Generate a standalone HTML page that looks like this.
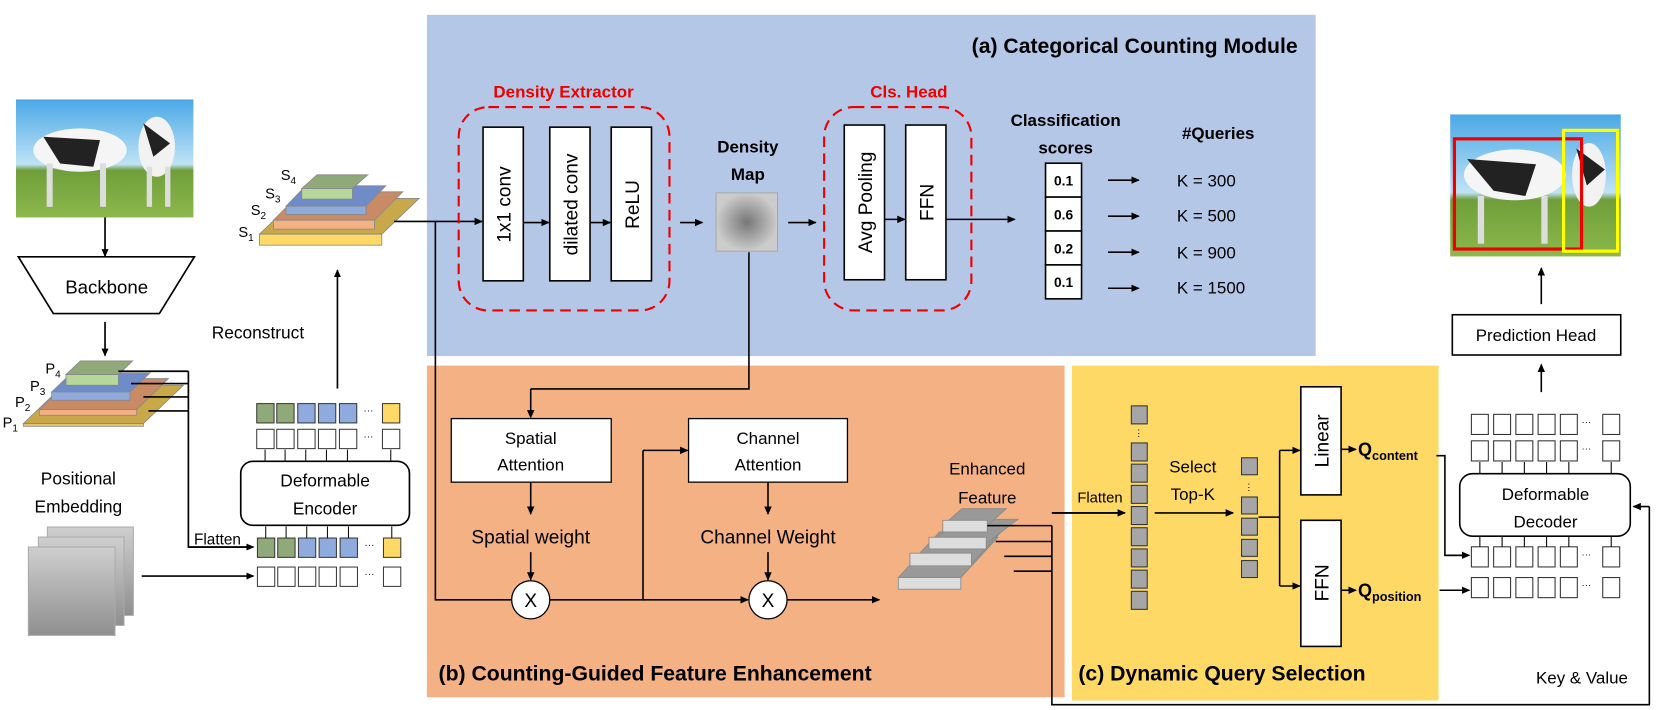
<!DOCTYPE html>
<html><head><meta charset="utf-8"><style>
html,body{margin:0;padding:0;background:#fff;}
svg{display:block;font-family:"Liberation Sans",sans-serif;}
</style></head><body>
<svg width="1661" height="710" viewBox="0 0 1568 670" preserveAspectRatio="none" xmlns="http://www.w3.org/2000/svg">
<defs>
<marker id="a" markerWidth="8" markerHeight="8" refX="7" refY="4" orient="auto" markerUnits="userSpaceOnUse"><path d="M0,0.5 L8,4 L0,7.5 z" fill="#000"/></marker>
<marker id="b" markerWidth="24" markerHeight="24" refX="21" refY="12" orient="auto" markerUnits="userSpaceOnUse"><path d="M0,1.5 L24,12 L0,22.5 z" fill="#000"/></marker>
<radialGradient id="dm"><stop offset="0" stop-color="#777"/><stop offset="1" stop-color="#ccc"/></radialGradient>
<linearGradient id="pe" x1="0" y1="0" x2="0" y2="1"><stop offset="0" stop-color="#cfcfcf"/><stop offset="1" stop-color="#8f8f8f"/></linearGradient>
<linearGradient id="sky" x1="0" y1="0" x2="0" y2="1"><stop offset="0" stop-color="#4aa8e6"/><stop offset="0.55" stop-color="#bfe3f5"/><stop offset="0.6" stop-color="#6f9e3a"/><stop offset="1" stop-color="#8cb84c"/></linearGradient>
</defs>

<rect x="403" y="14" width="839" height="322" fill="#b4c7e7"/>
<rect x="403" y="345" width="602" height="313" fill="#f4b183"/>
<rect x="1012" y="345" width="346" height="316" fill="#ffd966"/>

<text x="1225" y="50" font-size="20" font-weight="bold" text-anchor="end">(a) Categorical Counting Module</text>
<text x="414" y="642" font-size="20" font-weight="bold">(b) Counting-Guided Feature Enhancement</text>
<text x="1018" y="642" font-size="20" font-weight="bold">(c) Dynamic Query Selection</text>

<!-- LEFT PART drawn in zoom coords -->
<g transform="scale(0.9443) translate(0,80) scale(0.33333)">
<rect x="48" y="58" width="532" height="354" fill="url(#sky)"/>
<ellipse cx="240" cy="210" rx="140" ry="65" fill="#f5f5f5"/>
<path d="M130,170 L180,250 L280,260 L300,180 Z" fill="#222"/>
<rect x="140" y="250" width="18" height="130" fill="#ddd"/><rect x="300" y="250" width="18" height="130" fill="#ddd"/>
<ellipse cx="470" cy="200" rx="55" ry="90" fill="#f2f2f2"/>
<path d="M430,130 L460,230 L510,190 Z" fill="#222"/>
<rect x="440" y="260" width="16" height="120" fill="#ddd"/><rect x="495" y="260" width="16" height="120" fill="#ddd"/>
<line x1="315" y1="412" x2="315" y2="528" stroke="#000" stroke-width="5" marker-end="url(#b)"/>
<path d="M55,530 L583,530 L478,700 L160,700 Z" fill="#fff" stroke="#000" stroke-width="5"/>
<text x="320" y="640" font-size="56" text-anchor="middle">Backbone</text>
<line x1="315" y1="725" x2="315" y2="826" stroke="#000" stroke-width="5" marker-end="url(#b)"/>

<g stroke="#888" stroke-width="2.5">
<path d="M70,1030 L430,1030 L550,915 L190,915 Z" fill="#c9a84a"/><rect x="70" y="1030" width="360" height="8" fill="#e6c86a"/>
<path d="M118,988 L410,988 L505,895 L213,895 Z" fill="#c98a66"/><rect x="118" y="988" width="292" height="17" fill="#f4b183"/>
<path d="M155,935 L390,935 L450,878 L215,878 Z" fill="#6f8cc8"/><rect x="155" y="935" width="235" height="25" fill="#8faadc"/>
<path d="M198,883 L355,883 L398,842 L241,842 Z" fill="#8faa78"/><rect x="198" y="883" width="157" height="32" fill="#b5d89a"/>
</g>
<g font-size="44">
<text x="8" y="1042">P<tspan font-size="30" dy="12">1</tspan></text>
<text x="45" y="980">P<tspan font-size="30" dy="12">2</tspan></text>
<text x="90" y="932">P<tspan font-size="30" dy="12">3</tspan></text>
<text x="136" y="880">P<tspan font-size="30" dy="12">4</tspan></text>
</g>
<g stroke="#000" stroke-width="5" fill="none">
<path d="M355,873 L565,873 M393,910 L565,910 M430,950 L565,950 M445,992 L565,992 M565,873 L565,1400 L740,1400"/>
</g>
<line x1="565" y1="1400" x2="760" y2="1400" stroke="#000" stroke-width="5" marker-end="url(#b)"/>
<text x="582" y="1392" font-size="46">Flatten</text>

<text x="235" y="1212" font-size="52" text-anchor="middle">Positional</text>
<text x="235" y="1297" font-size="52" text-anchor="middle">Embedding</text>
<rect x="142" y="1340" width="258" height="265" fill="url(#pe)" stroke="#aaa" stroke-width="3"/>
<rect x="115" y="1370" width="257" height="265" fill="url(#pe)" stroke="#aaa" stroke-width="3"/>
<rect x="85" y="1400" width="260" height="265" fill="url(#pe)" stroke="#aaa" stroke-width="3"/>
<line x1="425" y1="1487" x2="760" y2="1487" stroke="#000" stroke-width="5" marker-end="url(#b)"/>

<g stroke="#333" stroke-width="3">
<rect x="770" y="970" width="52" height="58" fill="#8faa78"/><rect x="830" y="970" width="52" height="58" fill="#8faa78"/><rect x="893" y="970" width="52" height="58" fill="#8faadc"/><rect x="955" y="970" width="52" height="58" fill="#8faadc"/><rect x="1018" y="970" width="52" height="58" fill="#8faadc"/><rect x="1147" y="970" width="52" height="58" fill="#ffd966"/>
<rect x="770" y="1047" width="52" height="58" fill="#fff"/><rect x="830" y="1047" width="52" height="58" fill="#fff"/><rect x="893" y="1047" width="52" height="58" fill="#fff"/><rect x="955" y="1047" width="52" height="58" fill="#fff"/><rect x="1018" y="1047" width="52" height="58" fill="#fff"/><rect x="1147" y="1047" width="52" height="58" fill="#fff"/>
<rect x="772" y="1373" width="52" height="58" fill="#8faa78"/><rect x="833" y="1373" width="52" height="58" fill="#8faa78"/><rect x="895" y="1373" width="52" height="58" fill="#8faadc"/><rect x="957" y="1373" width="52" height="58" fill="#8faadc"/><rect x="1020" y="1373" width="52" height="58" fill="#8faadc"/><rect x="1150" y="1373" width="52" height="58" fill="#ffd966"/>
<rect x="772" y="1460" width="52" height="58" fill="#fff"/><rect x="833" y="1460" width="52" height="58" fill="#fff"/><rect x="895" y="1460" width="52" height="58" fill="#fff"/><rect x="957" y="1460" width="52" height="58" fill="#fff"/><rect x="1020" y="1460" width="52" height="58" fill="#fff"/><rect x="1150" y="1460" width="52" height="58" fill="#fff"/>
</g>
<g font-size="30"><text x="1090" y="1000">···</text><text x="1090" y="1077">···</text><text x="1093" y="1403">···</text><text x="1093" y="1490">···</text></g>
<rect x="722" y="1143" width="506" height="192" rx="36" fill="#fff" stroke="#000" stroke-width="5"/>
<text x="975" y="1218" font-size="52" text-anchor="middle">Deformable</text>
<text x="975" y="1302" font-size="52" text-anchor="middle">Encoder</text>
<g stroke="#000" stroke-width="3">
<line x1="795" y1="1143" x2="795" y2="1108"/><line x1="855" y1="1143" x2="855" y2="1108"/><line x1="917" y1="1143" x2="917" y2="1108"/><line x1="979" y1="1143" x2="979" y2="1108"/><line x1="1042" y1="1143" x2="1042" y2="1108"/><line x1="1172" y1="1143" x2="1172" y2="1108"/>
<line x1="797" y1="1373" x2="797" y2="1338"/><line x1="858" y1="1373" x2="858" y2="1338"/><line x1="920" y1="1373" x2="920" y2="1338"/><line x1="982" y1="1373" x2="982" y2="1338"/><line x1="1045" y1="1373" x2="1045" y2="1338"/><line x1="1175" y1="1373" x2="1175" y2="1338"/>
</g>
<text x="635" y="775" font-size="52">Reconstruct</text>
<line x1="1012" y1="925" x2="1012" y2="570" stroke="#000" stroke-width="5" marker-end="url(#b)"/>

<g stroke="#888" stroke-width="2.5">
<path d="M778,462 L1145,462 L1257,355 L890,355 Z" fill="#c9a84a"/><rect x="778" y="462" width="367" height="33" fill="#ffd966"/>
<path d="M820,420 L1123,420 L1208,335 L905,335 Z" fill="#c98a66"/><rect x="820" y="420" width="303" height="27" fill="#f4b183"/>
<path d="M858,378 L1098,378 L1157,317 L917,317 Z" fill="#6f8cc8"/><rect x="858" y="378" width="240" height="25" fill="#8faadc"/>
<path d="M905,325 L1057,325 L1103,284 L951,284 Z" fill="#8faa78"/><rect x="905" y="325" width="152" height="32" fill="#b5d89a"/>
</g>
<g font-size="44">
<text x="715" y="470">S<tspan font-size="30" dy="12">1</tspan></text>
<text x="752" y="405">S<tspan font-size="30" dy="12">2</tspan></text>
<text x="795" y="355">S<tspan font-size="30" dy="12">3</tspan></text>
<text x="842" y="300">S<tspan font-size="30" dy="12">4</tspan></text>
</g>
</g>

<line x1="372" y1="209" x2="455" y2="209" stroke="#000" stroke-width="1.5" marker-end="url(#a)"/>

<rect x="433" y="101" width="199" height="192" rx="28" fill="none" stroke="#e00" stroke-width="2" stroke-dasharray="10,6"/>
<text x="532" y="92" font-size="16" font-weight="bold" fill="#e00" text-anchor="middle">Density Extractor</text>
<g fill="#fff" stroke="#000" stroke-width="1.5">
<rect x="456" y="120" width="38" height="145"/><rect x="519" y="120" width="38" height="145"/><rect x="577" y="120" width="38" height="145"/>
</g>
<g font-size="18" text-anchor="middle">
<text transform="translate(482,193) rotate(-90)">1x1 conv</text>
<text transform="translate(545,193) rotate(-90)">dilated conv</text>
<text transform="translate(603,193) rotate(-90)">ReLU</text>
</g>
<line x1="494" y1="210" x2="518" y2="210" stroke="#000" stroke-width="1.5" marker-end="url(#a)"/>
<line x1="557" y1="210" x2="576" y2="210" stroke="#000" stroke-width="1.5" marker-end="url(#a)"/>
<line x1="642" y1="210" x2="663" y2="210" stroke="#000" stroke-width="1.5" marker-end="url(#a)"/>
<text x="706" y="144" font-size="16" font-weight="bold" text-anchor="middle">Density</text>
<text x="706" y="170" font-size="16" font-weight="bold" text-anchor="middle">Map</text>
<rect x="676" y="182" width="58" height="55" fill="url(#dm)" stroke="#aaa"/>
<line x1="744" y1="210" x2="770" y2="210" stroke="#000" stroke-width="1.5" marker-end="url(#a)"/>

<rect x="778" y="101" width="139" height="192" rx="28" fill="none" stroke="#e00" stroke-width="2" stroke-dasharray="10,6"/>
<text x="858" y="92" font-size="16" font-weight="bold" fill="#e00" text-anchor="middle">Cls. Head</text>
<g fill="#fff" stroke="#000" stroke-width="1.5"><rect x="797" y="118" width="38" height="146"/><rect x="855" y="118" width="38" height="146"/></g>
<text transform="translate(823,191) rotate(-90)" font-size="18" text-anchor="middle">Avg Pooling</text>
<text transform="translate(881,191) rotate(-90)" font-size="18" text-anchor="middle">FFN</text>
<line x1="835" y1="207" x2="854" y2="207" stroke="#000" stroke-width="1.5" marker-end="url(#a)"/>
<line x1="893" y1="207" x2="958" y2="207" stroke="#000" stroke-width="1.5" marker-end="url(#a)"/>

<text x="1006" y="119" font-size="16" font-weight="bold" text-anchor="middle">Classification</text>
<text x="1006" y="145" font-size="16" font-weight="bold" text-anchor="middle">scores</text>
<g fill="#fff" stroke="#000" stroke-width="1.5">
<rect x="987" y="154" width="34" height="32"/><rect x="987" y="186" width="34" height="32"/><rect x="987" y="218" width="34" height="32"/><rect x="987" y="250" width="34" height="32"/>
</g>
<g font-size="13" font-weight="bold" text-anchor="middle">
<text x="1004" y="175">0.1</text><text x="1004" y="207">0.6</text><text x="1004" y="239">0.2</text><text x="1004" y="271">0.1</text>
</g>
<g stroke="#000" stroke-width="1.5">
<line x1="1046" y1="170" x2="1075" y2="170" marker-end="url(#a)"/><line x1="1046" y1="204" x2="1075" y2="204" marker-end="url(#a)"/>
<line x1="1046" y1="238" x2="1075" y2="238" marker-end="url(#a)"/><line x1="1046" y1="272" x2="1075" y2="272" marker-end="url(#a)"/>
</g>
<text x="1150" y="131" font-size="16" font-weight="bold" text-anchor="middle">#Queries</text>
<g font-size="16"><text x="1111" y="176">K = 300</text><text x="1111" y="209">K = 500</text><text x="1111" y="244">K = 900</text><text x="1111" y="277">K = 1500</text></g>

<g stroke="#000" stroke-width="1.5" fill="none">
<path d="M707,238 L707,367 L501,367"/>
<path d="M411,209 L411,566 L483,566"/>
<path d="M519,566 L607,566 L607,425"/>
</g>
<line x1="501" y1="367" x2="501" y2="394" stroke="#000" stroke-width="1.5" marker-end="url(#a)"/>
<line x1="607" y1="425" x2="649" y2="425" stroke="#000" stroke-width="1.5" marker-end="url(#a)"/>
<rect x="426" y="395" width="151" height="60" fill="#fff" stroke="#000" stroke-width="1.2"/>
<text x="501" y="419" font-size="16" text-anchor="middle">Spatial</text>
<text x="501" y="444" font-size="16" text-anchor="middle">Attention</text>
<rect x="650" y="395" width="150" height="60" fill="#fff" stroke="#000" stroke-width="1.2"/>
<text x="725" y="419" font-size="16" text-anchor="middle">Channel</text>
<text x="725" y="444" font-size="16" text-anchor="middle">Attention</text>
<line x1="501" y1="455" x2="501" y2="485" stroke="#000" stroke-width="1.5" marker-end="url(#a)"/>
<line x1="725" y1="455" x2="725" y2="485" stroke="#000" stroke-width="1.5" marker-end="url(#a)"/>
<text x="501" y="513" font-size="18" text-anchor="middle">Spatial weight</text>
<text x="725" y="513" font-size="18" text-anchor="middle">Channel Weight</text>
<line x1="501" y1="521" x2="501" y2="547" stroke="#000" stroke-width="1.5" marker-end="url(#a)"/>
<line x1="725" y1="521" x2="725" y2="547" stroke="#000" stroke-width="1.5" marker-end="url(#a)"/>
<circle cx="501" cy="566" r="18" fill="#fff" stroke="#000" stroke-width="1.2"/>
<circle cx="725" cy="566" r="18" fill="#fff" stroke="#000" stroke-width="1.2"/>
<text x="501" y="573" font-size="18" text-anchor="middle">X</text>
<text x="725" y="573" font-size="18" text-anchor="middle">X</text>
<line x1="607" y1="566" x2="706" y2="566" stroke="#000" stroke-width="1.5" marker-end="url(#a)"/>
<line x1="743" y1="566" x2="830" y2="566" stroke="#000" stroke-width="1.5" marker-end="url(#a)"/>

<text x="932" y="448" font-size="16" text-anchor="middle">Enhanced</text>
<text x="932" y="475" font-size="16" text-anchor="middle">Feature</text>
<g stroke="#888" stroke-width="0.8">
<path d="M848,545 L907,545 L942,507 L883,507 Z" fill="#999"/><rect x="848" y="545" width="59" height="11" fill="#ddd"/>
<path d="M859,532 L917,532 L945,502 L887,502 Z" fill="#999"/><rect x="859" y="522" width="58" height="12" fill="#ddd"/>
<path d="M877,513 L931,513 L961,490 L907,490 Z" fill="#999"/><rect x="877" y="507" width="54" height="11" fill="#ddd"/>
<path d="M890,496 L932,496 L950,480 L908,480 Z" fill="#999"/><rect x="890" y="491" width="42" height="11" fill="#ddd"/>
</g>
<g stroke="#000" stroke-width="1.5" fill="none">
<path d="M932,496 L993,496"/><path d="M940,511 L993,511"/><path d="M948,525 L993,525"/><path d="M957,539 L993,539"/>
<path d="M993,496 L993,665 L1557,665 L1557,478"/>
<path d="M993,484 L1060,484"/>
</g>
<line x1="993" y1="484" x2="1062" y2="484" stroke="#000" stroke-width="1.5" marker-end="url(#a)"/>
<line x1="1557" y1="478" x2="1542" y2="478" stroke="#000" stroke-width="1.5" marker-end="url(#a)"/>
<text x="1017" y="474" font-size="14">Flatten</text>
<text x="1450" y="645" font-size="16">Key &amp; Value</text>

<g fill="#a6a6a6" stroke="#333" stroke-width="1">
<rect x="1068" y="383" width="15" height="17"/>
<rect x="1068" y="418" width="15" height="17"/><rect x="1068" y="438" width="15" height="17"/><rect x="1068" y="458" width="15" height="17"/><rect x="1068" y="478" width="15" height="17"/><rect x="1068" y="498" width="15" height="17"/><rect x="1068" y="518" width="15" height="17"/><rect x="1068" y="538" width="15" height="17"/><rect x="1068" y="558" width="15" height="17"/>
<rect x="1172" y="432" width="15" height="16"/><rect x="1172" y="469" width="15" height="16"/><rect x="1172" y="489" width="15" height="16"/><rect x="1172" y="509" width="15" height="16"/><rect x="1172" y="529" width="15" height="16"/>
</g>
<text x="1075" y="412" font-size="9" text-anchor="middle">⋮</text>
<text x="1179" y="463" font-size="9" text-anchor="middle">⋮</text>
<text x="1126" y="446" font-size="16" text-anchor="middle">Select</text>
<text x="1126" y="472" font-size="16" text-anchor="middle">Top-K</text>
<line x1="1090" y1="484" x2="1164" y2="484" stroke="#000" stroke-width="1.5" marker-end="url(#a)"/>
<g stroke="#000" stroke-width="1.5" fill="none"><path d="M1188,488 L1208,488 M1208,425 L1208,553"/></g>
<line x1="1208" y1="425" x2="1227" y2="425" stroke="#000" stroke-width="1.5" marker-end="url(#a)"/>
<line x1="1208" y1="553" x2="1227" y2="553" stroke="#000" stroke-width="1.5" marker-end="url(#a)"/>
<rect x="1228" y="365" width="38" height="102" fill="#fff" stroke="#000" stroke-width="1.5"/>
<rect x="1228" y="491" width="38" height="119" fill="#fff" stroke="#000" stroke-width="1.5"/>
<text transform="translate(1254,416) rotate(-90)" font-size="18" text-anchor="middle">Linear</text>
<text transform="translate(1254,550) rotate(-90)" font-size="18" text-anchor="middle">FFN</text>
<line x1="1266" y1="424" x2="1280" y2="424" stroke="#000" stroke-width="1.5" marker-end="url(#a)"/>
<line x1="1266" y1="557" x2="1280" y2="557" stroke="#000" stroke-width="1.5" marker-end="url(#a)"/>
<text x="1282" y="430" font-size="17" font-weight="bold">Q<tspan font-size="12" dy="4">content</tspan></text>
<text x="1282" y="563" font-size="17" font-weight="bold">Q<tspan font-size="12" dy="4">position</tspan></text>

<g stroke="#000" stroke-width="1.5" fill="none"><path d="M1356,430 L1364,430 L1364,524 L1384,524"/></g>
<line x1="1364" y1="524" x2="1387" y2="524" stroke="#000" stroke-width="1.5" marker-end="url(#a)"/>
<line x1="1359" y1="557" x2="1387" y2="557" stroke="#000" stroke-width="1.5" marker-end="url(#a)"/>
<g fill="#fff" stroke="#333" stroke-width="1">
<rect x="1389" y="391" width="16" height="19"/><rect x="1410" y="391" width="16" height="19"/><rect x="1431" y="391" width="16" height="19"/><rect x="1452" y="391" width="16" height="19"/><rect x="1473" y="391" width="16" height="19"/><rect x="1513" y="391" width="16" height="19"/>
<rect x="1389" y="416" width="16" height="19"/><rect x="1410" y="416" width="16" height="19"/><rect x="1431" y="416" width="16" height="19"/><rect x="1452" y="416" width="16" height="19"/><rect x="1473" y="416" width="16" height="19"/><rect x="1513" y="416" width="16" height="19"/>
<rect x="1389" y="516" width="16" height="19"/><rect x="1410" y="516" width="16" height="19"/><rect x="1431" y="516" width="16" height="19"/><rect x="1452" y="516" width="16" height="19"/><rect x="1473" y="516" width="16" height="19"/><rect x="1513" y="516" width="16" height="19"/>
<rect x="1389" y="545" width="16" height="19"/><rect x="1410" y="545" width="16" height="19"/><rect x="1431" y="545" width="16" height="19"/><rect x="1452" y="545" width="16" height="19"/><rect x="1473" y="545" width="16" height="19"/><rect x="1513" y="545" width="16" height="19"/>
</g>
<g font-size="9"><text x="1493" y="401">···</text><text x="1493" y="426">···</text><text x="1493" y="526">···</text><text x="1493" y="555">···</text></g>
<rect x="1378" y="447" width="161" height="59" rx="12" fill="#fff" stroke="#000" stroke-width="1.5"/>
<text x="1459" y="472" font-size="16" text-anchor="middle">Deformable</text>
<text x="1459" y="498" font-size="16" text-anchor="middle">Decoder</text>
<g stroke="#000" stroke-width="1">
<line x1="1397" y1="447" x2="1397" y2="436"/><line x1="1418" y1="447" x2="1418" y2="436"/><line x1="1439" y1="447" x2="1439" y2="436"/><line x1="1460" y1="447" x2="1460" y2="436"/><line x1="1481" y1="447" x2="1481" y2="436"/><line x1="1521" y1="447" x2="1521" y2="436"/>
<line x1="1397" y1="516" x2="1397" y2="506"/><line x1="1418" y1="516" x2="1418" y2="506"/><line x1="1439" y1="516" x2="1439" y2="506"/><line x1="1460" y1="516" x2="1460" y2="506"/><line x1="1481" y1="516" x2="1481" y2="506"/><line x1="1521" y1="516" x2="1521" y2="506"/>
</g>
<line x1="1455" y1="370" x2="1455" y2="344" stroke="#000" stroke-width="1.5" marker-end="url(#a)"/>
<rect x="1371" y="297" width="159" height="38" fill="#fff" stroke="#000" stroke-width="1.5"/>
<text x="1450" y="322" font-size="16" text-anchor="middle">Prediction Head</text>
<line x1="1455" y1="287" x2="1455" y2="253" stroke="#000" stroke-width="1.5" marker-end="url(#a)"/>

<g>
<rect x="1369" y="108" width="161" height="134" fill="url(#sky)"/>
<ellipse cx="1430" cy="165" rx="48" ry="24" fill="#f5f5f5"/>
<path d="M1385,150 L1410,180 L1440,185 L1450,155 Z" fill="#222"/>
<rect x="1395" y="185" width="6" height="45" fill="#ddd"/><rect x="1455" y="185" width="6" height="45" fill="#ddd"/>
<ellipse cx="1500" cy="165" rx="16" ry="30" fill="#f2f2f2"/>
<path d="M1488,140 L1498,175 L1515,160 Z" fill="#222"/>
<rect x="1373" y="131" width="120" height="104" fill="none" stroke="#e00" stroke-width="3"/>
<rect x="1476" y="123" width="51" height="114" fill="none" stroke="#ff0" stroke-width="3"/>
</g>
</svg>
</body></html>
